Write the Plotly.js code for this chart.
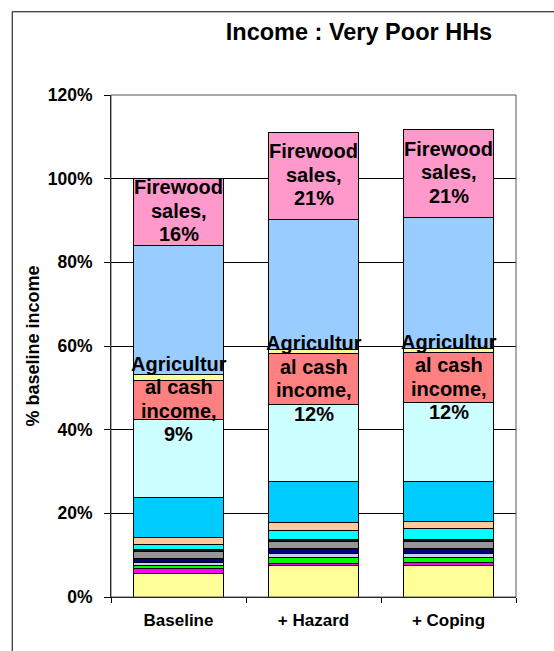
<!DOCTYPE html>
<html>
<head>
<meta charset="utf-8">
<script src="https://cdn.plot.ly/plotly-3.0.1.min.js"></script>
<style>
  html, body { margin: 0; padding: 0; background: #fff; }
  #chart { width: 554px; height: 651px; }
</style>
</head>
<body>
<div id="chart"></div>
<script>
// Scenarios on the x axis
const scenarios = ['Baseline', '+ Hazard', '+ Coping'];

// Income sources as % of baseline income, stacked bottom to top
const otherIncome1 = [5.7, 7.6, 7.6];
const otherIncome2 = [1.0, 0.5, 0.7];
const otherIncome3 = [0.8, 1.3, 1.2];
const otherIncome4 = [0.8, 1.1, 0.8];
const otherIncome5 = [0.8, 1.2, 1.2];
const otherIncome6 = [1.8, 1.6, 1.8];
const otherIncome7 = [0.5, 0.4, 0.4];
const otherIncome8 = [1.2, 2.3, 2.6];
const otherIncome9 = [1.6, 1.85, 1.8];
const otherIncome10 = [9.5, 9.7, 9.4];
const otherIncome11 = [18.7, 18.4, 18.9];
const agriculturalCash = [9.4, 12.2, 12.0];
const otherIncome12 = [1.4, 0.9, 0.9];
const otherIncome13 = [30.9, 31.3, 31.5];
const firewoodSales = [15.9, 20.6, 20.9];

// Y axis ticks (percent of baseline income)
const yTicks = [0, 20, 40, 60, 80, 100, 120];
const yTickText = yTicks.map(v => v + '%');

const stack = [
  { name: 'Other income 1', y: otherIncome1, color: '#FFFF99' },
  { name: 'Other income 2', y: otherIncome2, color: '#FF00FF' },
  { name: 'Other income 3', y: otherIncome3, color: '#00FF00' },
  { name: 'Other income 4', y: otherIncome4, color: '#CCCCFF' },
  { name: 'Other income 5', y: otherIncome5, color: '#000080' },
  { name: 'Other income 6', y: otherIncome6, color: '#969696' },
  { name: 'Other income 7', y: otherIncome7, color: '#111111' },
  { name: 'Other income 8', y: otherIncome8, color: '#00FFFF' },
  { name: 'Other income 9', y: otherIncome9, color: '#FFCC99' },
  { name: 'Other income 10', y: otherIncome10, color: '#00CCFF' },
  { name: 'Other income 11', y: otherIncome11, color: '#CCFFFF' },
  { name: 'Agricultural cash income', y: agriculturalCash, color: '#FF8080',
    lines: ['Agricultur', 'al cash', 'income,'] },
  { name: 'Other income 12', y: otherIncome12, color: '#FFFF99' },
  { name: 'Other income 13', y: otherIncome13, color: '#99CCFF' },
  { name: 'Firewood sales', y: firewoodSales, color: '#FF99CC',
    lines: ['Firewood', 'sales,'] }
];

const FONT = 'Arial, "Liberation Sans", sans-serif';

const traces = stack.map(s => ({
  type: 'bar',
  name: s.name,
  x: scenarios,
  y: s.y,
  marker: { color: s.color, line: { color: '#000', width: 1 } },
  hoverinfo: 'skip'
}));

// In-segment labels: centred on their segment, one annotation per line
const annotations = [];
const LINE = 23.5;
scenarios.forEach((sc, i) => {
  let base = 0;
  stack.forEach(s => {
    const v = s.y[i];
    if (s.lines) {
      const lines = s.lines.concat([Math.round(v) + '%']);
      const mid = (lines.length - 1) / 2;
      lines.forEach((t, k) => {
        annotations.push({
          x: sc, y: base + v / 2, xref: 'x', yref: 'y',
          text: t, showarrow: false,
          yshift: (mid - k) * LINE + 1,
          font: { family: FONT, size: 20, weight: 700, color: '#000' }
        });
      });
    }
    base += v;
  });
});

const layout = {
  width: 554, height: 651,
  margin: { l: 111, r: 38.3, t: 95, b: 53.5 },
  paper_bgcolor: '#fff', plot_bgcolor: '#fff',
  barmode: 'stack',
  bargap: 0.333,
  showlegend: false,
  title: {
    text: 'Income : Very Poor HHs',
    font: { family: FONT, size: 23.5, weight: 700, color: '#000' },
    xref: 'container', yref: 'container',
    x: 0.648, xanchor: 'center', y: 0.951, yanchor: 'middle'
  },
  xaxis: {
    type: 'category',
    showline: true, linecolor: '#000', linewidth: 1,
    ticks: 'outside', tickson: 'boundaries', ticklen: 5, tickcolor: '#000',
    ticklabelstandoff: 8,
    tickfont: { family: FONT, size: 17, weight: 700, color: '#000' },
    showgrid: false, zeroline: false
  },
  yaxis: {
    range: [0, 120], tickmode: 'array', tickvals: yTicks, ticktext: yTickText,
    showline: true, linecolor: '#000', linewidth: 1,
    ticks: 'outside', ticklen: 6, tickcolor: '#000',
    ticklabelstandoff: 8,
    tickfont: { family: FONT, size: 17.5, weight: 700, color: '#000' },
    showgrid: true, gridcolor: '#000', gridwidth: 1,
    zeroline: false,
    title: {
      text: '% baseline income',
      font: { family: FONT, size: 18, weight: 700, color: '#000' },
      standoff: 3
    }
  },
  shapes: [
    // plot area frame (top and right)
    { type: 'rect', xref: 'paper', yref: 'paper', x0: 0, x1: 1, y0: 0, y1: 1,
      line: { color: '#555', width: 1 }, layer: 'above' },
    // chart area frame
    { type: 'rect', xref: 'paper', yref: 'paper', x0: -0.2439, x1: 1.3, y0: -0.3, y1: 1.1658,
      line: { color: '#000', width: 1 }, layer: 'above' }
  ],
  annotations: annotations
};

Plotly.newPlot('chart', traces, layout, { staticPlot: true, displayModeBar: false });
</script>
</body>
</html>
